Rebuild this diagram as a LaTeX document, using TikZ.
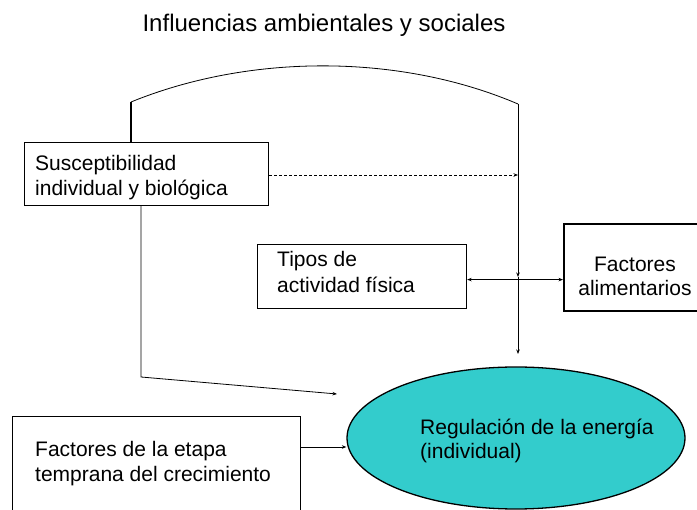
\documentclass[tikz,border=0pt]{standalone}
\usepackage{fontspec}
\setmainfont{Liberation Sans}
\usetikzlibrary{shapes.geometric,arrows.meta}
\definecolor{ellfill}{HTML}{33CCCC}
\begin{document}
\begin{tikzpicture}[x=1pt,y=-1pt,
  box/.style={draw,line width=1.2pt,inner sep=0,anchor=north west},
  txt/.style={anchor=base west,align=left,inner sep=0,font=\fontsize{21}{25}\selectfont},
  conn/.style={line width=0.8pt},
  arr/.style={-{Stealth[length=4.5pt,width=3.5pt]}},
  darr/.style={{Stealth[length=4.5pt,width=3.5pt]}-{Stealth[length=4.5pt,width=3.5pt]}}]
\useasboundingbox (0,0) rectangle (697,510);
% boxes
\node[box,minimum width=244pt,minimum height=63pt] (S) at (24,142) {};
\node[box,minimum width=209pt,minimum height=64pt] (T) at (257,244) {};
\node[box,line width=2pt,minimum width=144pt,minimum height=87pt] (F) at (563,223) {};
\node[box,minimum width=288pt,minimum height=110pt] (E) at (12,416) {};
\node[ellipse,draw,fill=ellfill,line width=1.3pt,inner sep=0,minimum width=338pt,minimum height=142pt] (R) at (516,438) {};
% texts (anchor base = baseline of the last line)
\node[txt,font=\fontsize{24}{28}\selectfont,anchor=base] (title) at (324,32) {Influencias ambientales y sociales};
\node[txt] (st) at (35,196) {Susceptibilidad\\individual y biológica};
\node[txt,font=\fontsize{21}{26}\selectfont] (tt) at (277,293) {Tipos de\\actividad física};
\node[txt,align=center,anchor=base,font=\fontsize{21}{24}\selectfont] (ft) at (635,296) {Factores\\alimentarios};
\node[txt,font=\fontsize{21}{24}\selectfont] (rt) at (420,459) {Regulación de la energía\\(individual)};
\node[txt] (et) at (35,482) {Factores de la etapa\\temprana del crecimiento};
% connectors
\coordinate (top) at (131,102);
\coordinate (arcend) at (518,104);
\coordinate (cross) at (518,277);
\coordinate (vend) at (518,354);
\draw[line width=2pt] (S.north -| top) -- (top);
\draw[conn] (top) .. controls (250,53.5) and (400,53.5) .. (arcend);
\draw[conn,arr] (arcend) -- (cross);
\draw[conn,arr] (cross) -- (vend);
\coordinate (dstart) at ([yshift=-33pt]S.north east);
\draw[conn,dash pattern=on 3pt off 2pt,arr] (dstart) -- (dstart -| cross);
\coordinate (bend) at (141,377);
\coordinate (send) at (337,394);
\draw[conn,arr] (S.south -| bend) -- (bend) -- (send);
\coordinate (tip) at ([yshift=-3pt]T.east);
\draw[conn,darr] (tip) -- (tip -| F.west);
\coordinate (ea) at ([yshift=-31pt]E.north east);
\draw[conn,arr] (ea) -- (ea -| R.west);
\end{tikzpicture}
\end{document}
